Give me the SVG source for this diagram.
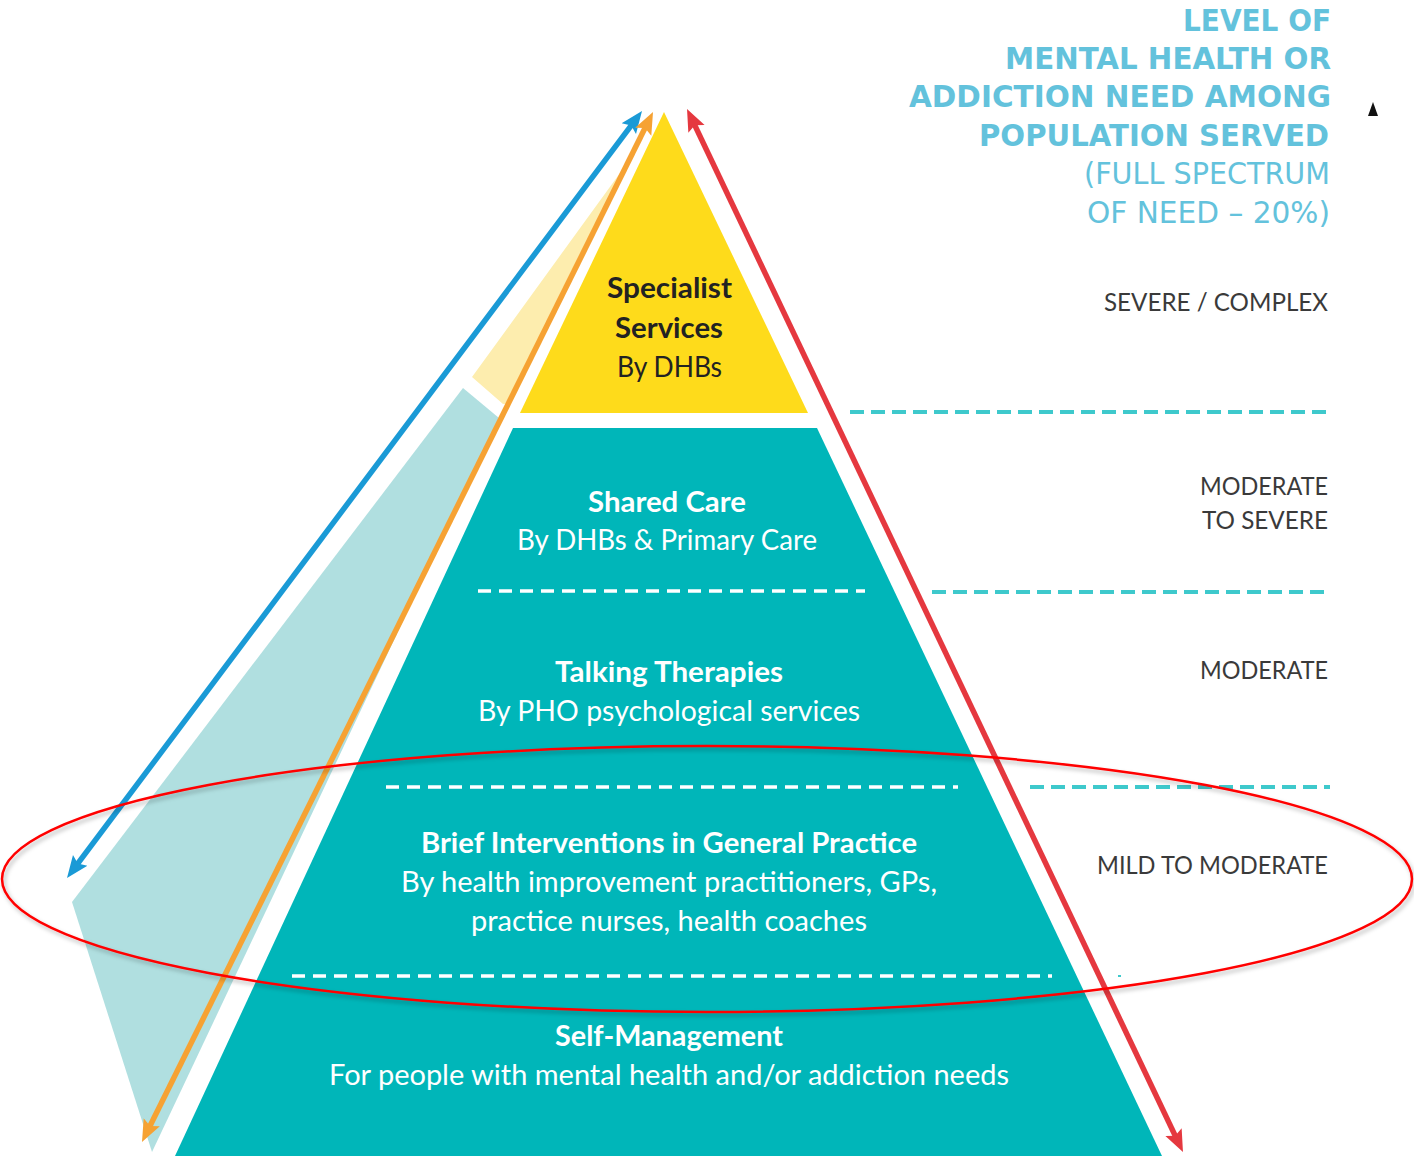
<svg xmlns="http://www.w3.org/2000/svg" width="1414" height="1157" viewBox="0 0 1414 1157">
  <style>
    .tier { font-family: Lato, "Open Sans", "Liberation Sans", sans-serif; font-size: 28px; }
    .dark { fill: #222222; }
    .light { fill: #ffffff; }
    .b { font-weight: 700; }
    .lvl { font-family: Lato, "Open Sans", "Liberation Sans", sans-serif; font-size: 25px; fill: #3a3a3a; }
    .ttl { font-family: "DejaVu Sans", Verdana, sans-serif; font-size: 30px; fill: #63c2dc; }
    .wdash { stroke: #ffffff; stroke-width: 3.5; stroke-dasharray: 13 8; fill: none; }
    .cdash { stroke: #3ec9cc; stroke-width: 4; stroke-dasharray: 14 7; fill: none; }
    .arrow { fill: none; stroke-width: 5.5; }
  </style>
  <defs>
    <marker id="headBlue" markerUnits="userSpaceOnUse" viewBox="0 -10 23 20" refX="6" refY="0" markerWidth="23" markerHeight="20" orient="auto-start-reverse">
      <path d="M0,-9 L22,0 L0,9 L4,0 Z" fill="#1a9ad6"/>
    </marker>
    <marker id="headOrange" markerUnits="userSpaceOnUse" viewBox="0 -10 23 20" refX="6" refY="0" markerWidth="23" markerHeight="20" orient="auto-start-reverse">
      <path d="M0,-9 L22,0 L0,9 L4,0 Z" fill="#f6a233"/>
    </marker>
    <marker id="headRed" markerUnits="userSpaceOnUse" viewBox="0 -10 23 20" refX="6" refY="0" markerWidth="23" markerHeight="20" orient="auto-start-reverse">
      <path d="M0,-9 L22,0 L0,9 L4,0 Z" fill="#e5383f"/>
    </marker>
    <filter id="ringShadow" x="-5%" y="-20%" width="110%" height="140%">
      <feDropShadow dx="2" dy="3" stdDeviation="2" flood-color="#000000" flood-opacity="0.28"/>
    </filter>
  </defs>

  <rect width="1414" height="1157" fill="#ffffff"/>

  <!-- pale backdrop beside the pyramid -->
  <g id="backdrop">
    <polygon points="628,162 472,377 503,404 510,404 636,150" fill="#fdedae"/>
    <polygon points="463,388 499,418 152,1152 72,902" fill="#b0dfe0"/>
  </g>

  <!-- pyramid tiers -->
  <g id="tier-specialist">
    <polygon points="664,112 520,413 808,413" fill="#fedb1b"/>
    <text class="tier dark b" x="607" y="298" textLength="125" lengthAdjust="spacingAndGlyphs">Specialist</text>
    <text class="tier dark b" x="615" y="338" textLength="108" lengthAdjust="spacingAndGlyphs">Services</text>
    <text class="tier dark" x="617" y="377" textLength="105" lengthAdjust="spacingAndGlyphs">By DHBs</text>
  </g>

  <g id="tier-base">
    <polygon points="513,428 817,428 1162,1156 175,1156" fill="#00b6b9"/>
  </g>

  <g id="tier-shared-care">
    <text class="tier light b" x="588" y="512" textLength="158" lengthAdjust="spacingAndGlyphs">Shared Care</text>
    <text class="tier light" x="517" y="550" textLength="300" lengthAdjust="spacingAndGlyphs">By DHBs &amp; Primary Care</text>
    <line class="wdash" x1="478" y1="591" x2="865" y2="591"/>
  </g>

  <g id="tier-talking-therapies">
    <text class="tier light b" x="555" y="682" textLength="228" lengthAdjust="spacingAndGlyphs">Talking Therapies</text>
    <text class="tier light" x="478" y="721" textLength="382" lengthAdjust="spacingAndGlyphs">By PHO psychological services</text>
    <line class="wdash" x1="386" y1="787" x2="958" y2="787"/>
  </g>

  <g id="tier-brief-interventions">
    <text class="tier light b" x="421" y="853" textLength="496" lengthAdjust="spacingAndGlyphs">Brief Interventions in General Practice</text>
    <text class="tier light" x="401" y="892" textLength="536" lengthAdjust="spacingAndGlyphs">By health improvement practitioners, GPs,</text>
    <text class="tier light" x="471" y="931" textLength="396" lengthAdjust="spacingAndGlyphs">practice nurses, health coaches</text>
    <line class="wdash" x1="292" y1="976" x2="1052" y2="976"/>
  </g>

  <g id="tier-self-management">
    <text class="tier light b" x="555" y="1046" textLength="228" lengthAdjust="spacingAndGlyphs">Self-Management</text>
    <text class="tier light" x="329" y="1085" textLength="680" lengthAdjust="spacingAndGlyphs">For people with mental health and/or addiction needs</text>
  </g>

  <!-- need-level scale on the right -->
  <g id="scale-title">
    <text class="ttl b" x="1183" y="31" textLength="148" lengthAdjust="spacingAndGlyphs">LEVEL OF</text>
    <text class="ttl b" x="1005" y="69" textLength="326" lengthAdjust="spacingAndGlyphs">MENTAL HEALTH OR</text>
    <text class="ttl b" x="909" y="107" textLength="422" lengthAdjust="spacingAndGlyphs">ADDICTION NEED AMONG</text>
    <text class="ttl b" x="979" y="146" textLength="350" lengthAdjust="spacingAndGlyphs">POPULATION SERVED</text>
    <text class="ttl" x="1084" y="184" textLength="246" lengthAdjust="spacingAndGlyphs">(FULL SPECTRUM</text>
    <text class="ttl" x="1087" y="223" textLength="243" lengthAdjust="spacingAndGlyphs">OF NEED – 20%)</text>
    <polygon points="1368,116 1373,102 1378,116" fill="#111111"/>
  </g>

  <g id="level-severe">
    <text class="lvl" x="1104" y="311" textLength="224" lengthAdjust="spacingAndGlyphs">SEVERE / COMPLEX</text>
    <line class="cdash" x1="850" y1="412" x2="1330" y2="412"/>
  </g>
  <g id="level-moderate-severe">
    <text class="lvl" x="1200" y="495" textLength="128" lengthAdjust="spacingAndGlyphs">MODERATE</text>
    <text class="lvl" x="1202" y="529" textLength="126" lengthAdjust="spacingAndGlyphs">TO SEVERE</text>
    <line class="cdash" x1="932" y1="592" x2="1330" y2="592"/>
  </g>
  <g id="level-moderate">
    <text class="lvl" x="1200" y="679" textLength="128" lengthAdjust="spacingAndGlyphs">MODERATE</text>
    <line class="cdash" x1="1030" y1="787" x2="1330" y2="787"/>
  </g>
  <g id="level-mild">
    <text class="lvl" x="1097" y="874" textLength="231" lengthAdjust="spacingAndGlyphs">MILD TO MODERATE</text>
    <rect x="1118" y="975" width="3" height="2" fill="#3ec9cc"/>
  </g>

  <!-- double-headed arrows along the pyramid -->
  <g id="connectors">
    <line class="arrow" x1="76.6" y1="865.2" x2="632.4" y2="123.8" stroke="#1a9ad6" marker-start="url(#headBlue)" marker-end="url(#headBlue)"/>
    <line class="arrow" x1="149.1" y1="1127.7" x2="645.9" y2="126.3" stroke="#f6a233" marker-start="url(#headOrange)" marker-end="url(#headOrange)"/>
    <line class="arrow" x1="693.9" y1="123.4" x2="1176.1" y2="1137.6" stroke="#e5383f" marker-start="url(#headRed)" marker-end="url(#headRed)"/>
  </g>

  <!-- highlight ring round the primary-care band -->
  <g id="highlight">
    <ellipse cx="707" cy="879" rx="705" ry="133" fill="none" stroke="#ff0000" stroke-width="2.5" filter="url(#ringShadow)"/>
  </g>
</svg>
